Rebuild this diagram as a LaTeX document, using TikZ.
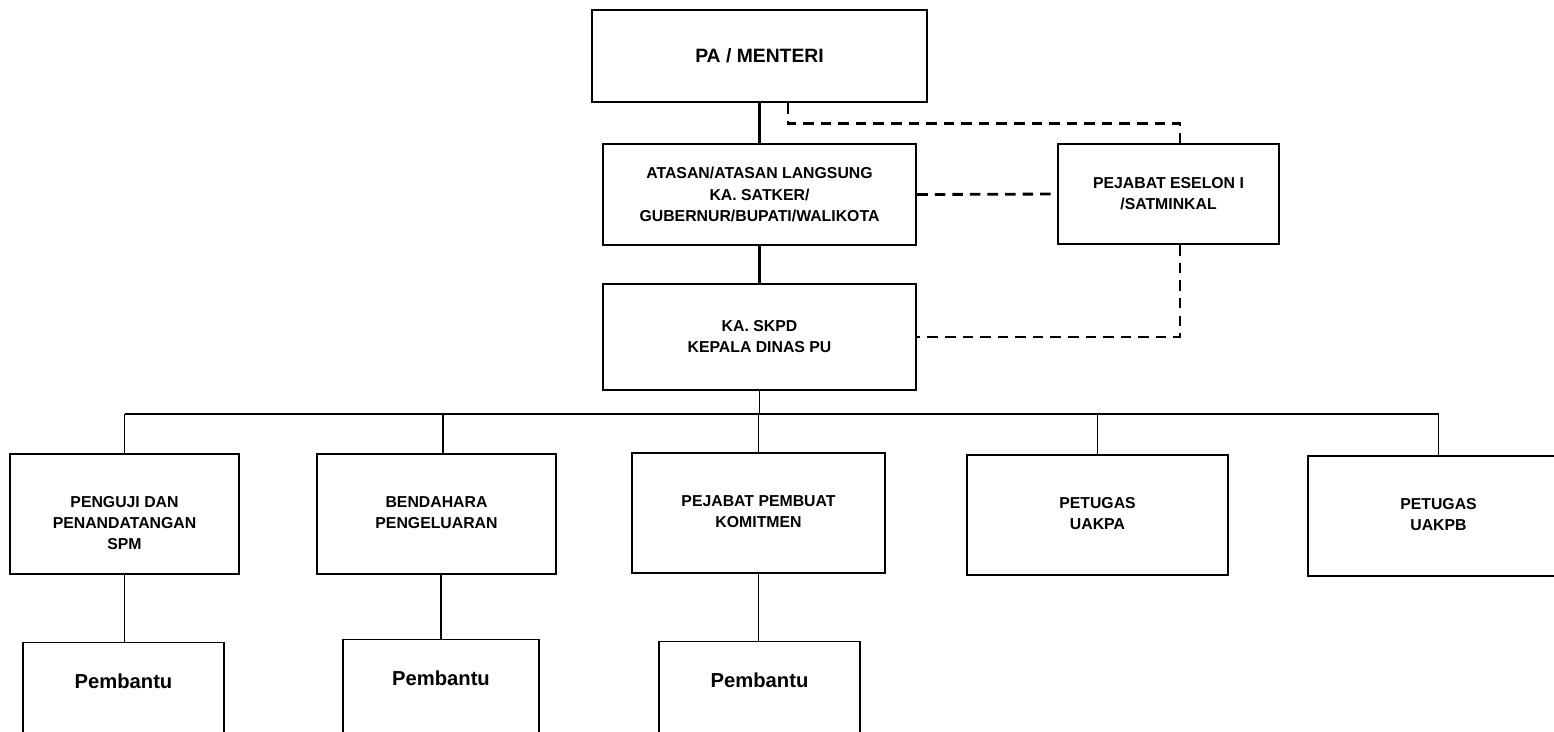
\documentclass[tikz,border=0pt]{standalone}
\usepackage{fontspec}
\setmainfont{Liberation Sans}
\usepackage{tikz}
\newcommand{\boxfont}{\fontsize{9}{12}\selectfont\bfseries}
\newcommand{\headfont}{\fontsize{11}{13}\selectfont\bfseries}
\newcommand{\helpfont}{\fontsize{11.5}{13}\selectfont\bfseries}
\begin{document}
\begin{tikzpicture}[x=0.02cm,y=-0.02cm]
\tikzstyle{box}=[draw,rectangle,inner sep=0pt,align=center,font=\boxfont]
\tikzstyle{topbox}=[box,line width=1.4pt]
\tikzstyle{rowbox}=[box,line width=1.1pt,anchor=north,text height=1.5cm,text depth=0.9cm]
\tikzstyle{helpbox}=[box,line width=0.8pt,anchor=north,font=\helpfont,text height=0.92cm,text depth=1.44cm]
\tikzstyle{link}=[line width=1.2pt]
\tikzstyle{bus}=[line width=1.1pt]
\tikzstyle{sublink}=[line width=0.6pt]
\tikzstyle{dashline}=[line width=1.6pt,dash pattern=on 6pt off 4pt]
\useasboundingbox (0,0) rectangle (1554,731);
\clip (0,0) rectangle (1554,731);
\node[topbox,minimum width=6.7cm,minimum height=1.84cm,font=\headfont] (pa) at (759.5,56) {PA / MENTERI};
\node[topbox,minimum width=6.26cm,minimum height=2.02cm] (atasan) at (759.5,194.5) {ATASAN/ATASAN LANGSUNG\\KA. SATKER/\\GUBERNUR/BUPATI/WALIKOTA};
\node[topbox,minimum width=4.42cm,minimum height=2cm] (eselon) at (1168.5,194) {PEJABAT ESELON I\\/SATMINKAL};
\node[topbox,minimum width=6.26cm,minimum height=2.12cm] (skpd) at (759.5,337) {KA. SKPD\\KEPALA DINAS PU};
\node[rowbox,minimum width=4.58cm,text height=1.92cm,text depth=0.48cm] (penguji) at (124.5,453) {PENGUJI DAN\\PENANDATANGAN\\SPM};
\node[rowbox,minimum width=4.78cm] (bendahara) at (436.5,453) {BENDAHARA\\PENGELUARAN};
\node[rowbox,minimum width=5.06cm] (ppk) at (758.5,452) {PEJABAT PEMBUAT\\KOMITMEN};
\node[rowbox,minimum width=5.22cm] (uakpa) at (1097.5,454) {PETUGAS\\UAKPA};
\node[rowbox,minimum width=5.24cm] (uakpb) at (1438.5,455) {PETUGAS\\UAKPB};
\node[helpbox,minimum width=4.02cm] (pb1) at (123.5,642) {Pembantu};
\node[helpbox,minimum width=3.92cm] (pb2) at (441,639) {Pembantu};
\node[helpbox,minimum width=4.02cm] (pb3) at (759.5,641) {Pembantu};
\draw[link] (pa.south) -- (atasan.north);
\draw[link] (atasan.south) -- (skpd.north);
\draw[dashline] ([xshift=0.57cm]pa.south) -- ++(0,20) -| ([xshift=0.23cm]eselon.north);
\draw[dashline] (atasan.east) -- (eselon.west);
\draw[dashline] ([xshift=0.23cm]eselon.south) |- (skpd.east);
\coordinate (busl) at (124.5,414);
\coordinate (busr) at (1439,414);
\draw[bus] (busl) -- (busr);
\draw[bus] (skpd.south) -- (skpd.south |- busl);
\foreach \n/\dx in {penguji/0,bendahara/0.13,ppk/0,uakpa/0,uakpb/0}
  \draw[bus] ([xshift=\dx cm]\n.north) -- ([xshift=\dx cm]\n.north |- busl);
\draw[sublink] (penguji.south) -- (penguji.south |- pb1.north);
\draw[sublink] (pb2.north |- bendahara.south) -- (pb2.north);
\draw[sublink] (ppk.south) -- (ppk.south |- pb3.north);
\end{tikzpicture}
\end{document}
